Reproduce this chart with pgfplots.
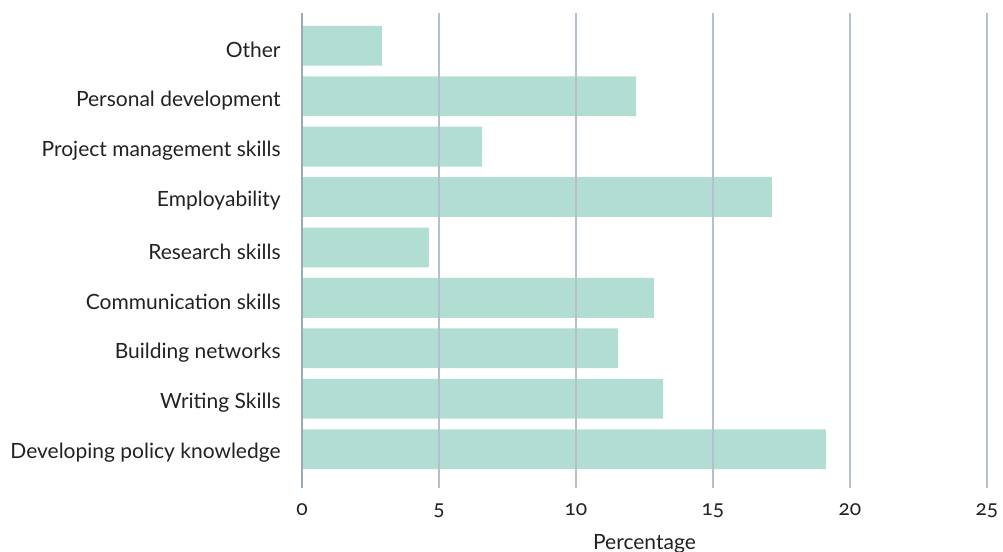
\documentclass[border=0pt]{standalone}
\usepackage{fontspec}
\setmainfont{Lato}[Numbers=OldStyle]
\usepackage{pgfplots}
\pgfplotsset{compat=1.18}
\definecolor{barc}{HTML}{B2DDD3}
\definecolor{gridc}{HTML}{B4C0CC}
\definecolor{axc}{HTML}{9AAAB8}
\definecolor{txt}{HTML}{222222}
\begin{document}
\fontsize{10.5pt}{12pt}\selectfont
\begin{tikzpicture}
\useasboundingbox (-151pt,-32pt) rectangle (350.5pt,244pt);
\begin{axis}[
  name=ax,
  scale only axis,
  width=342.5pt, height=237.5pt,
  xbar, bar width=0.79,
  xmin=0, xmax=25,
  ymin=-0.77, ymax=8.65,
  xtick={0,5,10,15,20,25},
  ytick={0,1,2,3,4,5,6,7,8},
  yticklabels={Developing policy knowledge,Writing Skills,Building networks,Communication skills,Research skills,Employability,Project management skills,Personal development,Other},
  /pgf/number format/assume math mode=true,
  tick label style={font=\fontsize{10.5pt}{12pt}\selectfont, text=txt},
  xticklabel style={yshift=-4pt},
  yticklabel style={xshift=-7pt, yshift=-2pt},
  xlabel={Percentage},
  xlabel style={font=\fontsize{10.5pt}{12pt}\selectfont, text=txt, yshift=-1.5pt},
  axis line style={draw=none},
  major tick length=0pt,
  xmajorgrids,
  grid style={gridc, line width=0.6pt},
  axis on top,
  clip=false,
]
\addplot[fill=barc, draw=none] coordinates {
(19.12,0) (13.18,1) (11.53,2) (12.85,3) (4.63,4) (17.15,5) (6.57,6) (12.19,7) (2.92,8)
};
\end{axis}
\draw[axc, line width=1pt] (0,0) -- (0,237.5pt);
\end{tikzpicture}
\end{document}
